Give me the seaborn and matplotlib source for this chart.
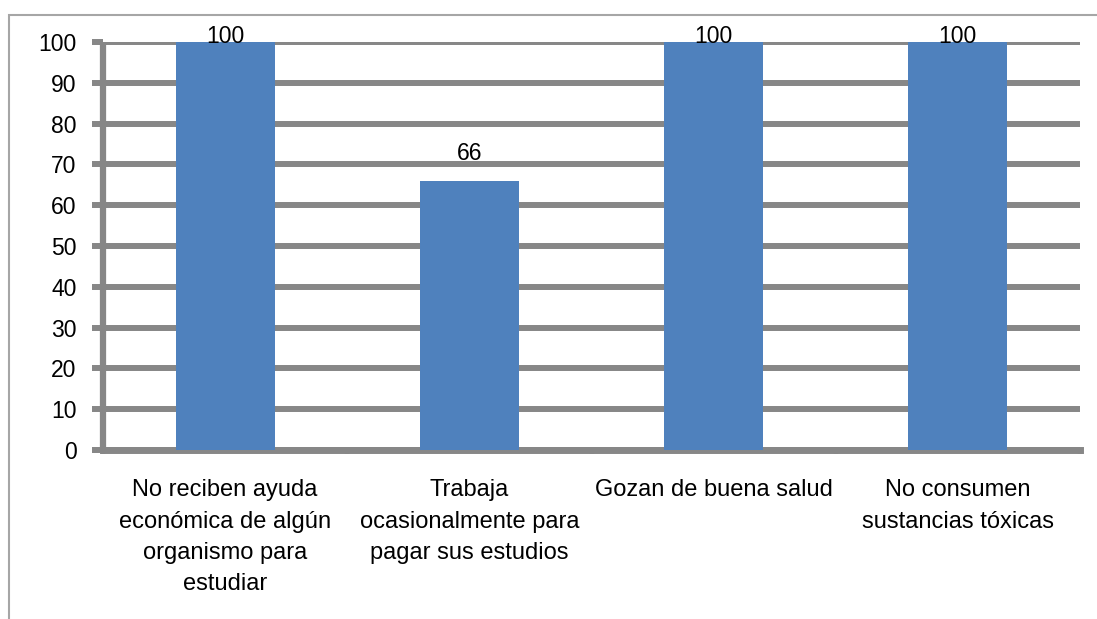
import matplotlib
matplotlib.use("Agg")
import matplotlib.pyplot as plt
import seaborn as sns
import pandas as pd
from matplotlib.patches import Rectangle

# Datos
categorias = ["No reciben ayuda\neconómica de algún\norganismo para\nestudiar",
              "Trabaja\nocasionalmente para\npagar sus estudios",
              "Gozan de buena salud",
              "No consumen\nsustancias tóxicas"]
valores = [100, 66, 100, 100]
marcas_y = [0, 10, 20, 30, 40, 50, 60, 70, 80, 90, 100]

sns.set_style("white")
plt.rcParams['font.family'] = ['Liberation Sans', 'DejaVu Sans']
plt.rcParams['text.color'] = 'black'
plt.rcParams['xtick.labelcolor'] = 'black'
plt.rcParams['ytick.labelcolor'] = 'black'

gris = '#878787'
azul = '#4F81BD'

fig = plt.figure(figsize=(10.97, 6.19), dpi=100)
ax = fig.add_axes([103/1097, 1 - 450/619, (1080 - 103)/1097, (450 - 42)/619])

df = pd.DataFrame({'cat': categorias, 'val': valores})
sns.barplot(data=df, x='cat', y='val', color=azul, saturation=1, width=0.405,
            linewidth=0, edgecolor=azul, ax=ax, zorder=3)

ax.set_xlim(-0.5, 3.5)
ax.set_ylim(0, 100)
ax.set_yticks(marcas_y)
ax.set_xlabel('')
ax.set_ylabel('')

# lineas de cuadricula gruesas
ax.yaxis.grid(True, color=gris, linewidth=4.3, zorder=0)
ax.set_axisbelow(True)
ax.tick_params(axis='y', length=8, width=4.3, color=gris, labelsize=16.5, pad=11, left=True)
ax.tick_params(axis='x', length=0, labelsize=17, pad=21)
for lab in ax.get_xticklabels():
    lab.set_linespacing(1.55)
    lab.set_verticalalignment('top')

# marcas en limites de categorias
ax.set_xticks([-0.5, 0.5, 1.5, 2.5, 3.5], minor=True)
ax.tick_params(axis='x', which='minor', length=3, width=3, color=gris, bottom=True)

for s in ['top', 'right']:
    ax.spines[s].set_visible(False)
ax.spines['left'].set_color(gris)
ax.spines['left'].set_linewidth(4.5)
ax.spines['left'].set_capstyle('butt')
ax.spines['bottom'].set_color(gris)
ax.spines['bottom'].set_linewidth(5)
ax.spines['left'].set_zorder(4)

# etiquetas de valores
for i, v in enumerate(valores):
    off = 11 if v < 100 else -4
    ax.annotate(str(v), (i, v), xytext=(0, off), textcoords='offset points',
                ha='center', va='bottom', fontsize=16.5, color='black',
                annotation_clip=False, zorder=5)

# marco del grafico
fig.patches.append(Rectangle((9/1097, -0.1), 1.2, 1 - 15/619 + 0.1, transform=fig.transFigure,
                             fill=False, edgecolor='#A6A6A6', linewidth=1.5))

fig.savefig('out.png', dpi=100)
